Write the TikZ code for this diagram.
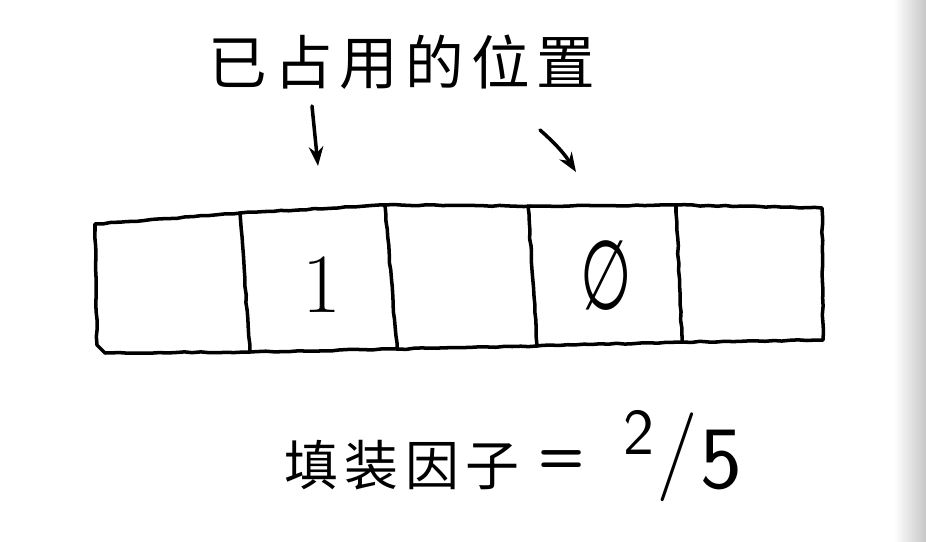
\documentclass[tikz,border=0pt]{standalone}
\usepackage{fontspec}
\newfontfamily\cjk[LetterSpace=12]{Noto Sans CJK SC}
\newfontfamily\sym{DejaVu Sans}
\usetikzlibrary{decorations.pathmorphing,arrows.meta}
\begin{document}
\begin{tikzpicture}[x=0.03cm,y=-0.03cm,>=Stealth,line join=round,line cap=round,
	hand/.style={line width=3pt,decorate,decoration={random steps,segment length=7pt,amplitude=0.5pt}},
	lab/.style={font=\cjk\fontsize{50}{50}\selectfont,inner sep=0pt},
	num/.style={inner sep=0pt,font=\fontsize{72}{72}\selectfont}]
	\useasboundingbox (0,0) rectangle (926,542);
	\shade[left color=white,right color=black!22] (894,0) rectangle (926,542);
	% khung 5 o
	\draw[hand] (95,224)--(240,213)--(385,205)--(530,206)--(676,205)--(822,208)
		--(823,340)--(682,342)--(537,346)--(397,349)--(250,352)--(105,353)--(97,345)--cycle;
	\draw[hand] (240,213)--(250,352) (385,205)--(397,349) (528,206)--(537,346) (676,205)--(682,342);
	\node[lab] (title) at (402,62) {已占用的位置};
	\node[num] (one) at (322,285) {1};
	\node[num] (nul) at (606,276) {\sym\scalebox{0.7}[1.15]{∅}};
	% mui ten
	\coordinate (p1) at (312,106); \coordinate (q1) at (318,166);
	\coordinate (p2) at (540,130); \coordinate (q2) at (576,172);
	\draw[->,line width=3pt] (p1)--(q1);
	\draw[->,line width=3pt] (p2) to[bend left=8] (q2);
	% he so
	\node[lab,font=\cjk\fontsize{46}{46}\selectfont] (load) at (402,465) {填装因子};
	\node[inner sep=0pt,font=\sffamily\bfseries\fontsize{46}{46}\selectfont] (eq) at (562,462) {=};
	\node[inner sep=0pt,font=\sffamily\fontsize{76}{76}\selectfont] (frac) at (683,456)
		{\raisebox{0.28em}{\fontsize{56}{56}\selectfont 2}\kern0.02em/\kern0.02em\raisebox{-0.1em}{5}};
\end{tikzpicture}
\end{document}
